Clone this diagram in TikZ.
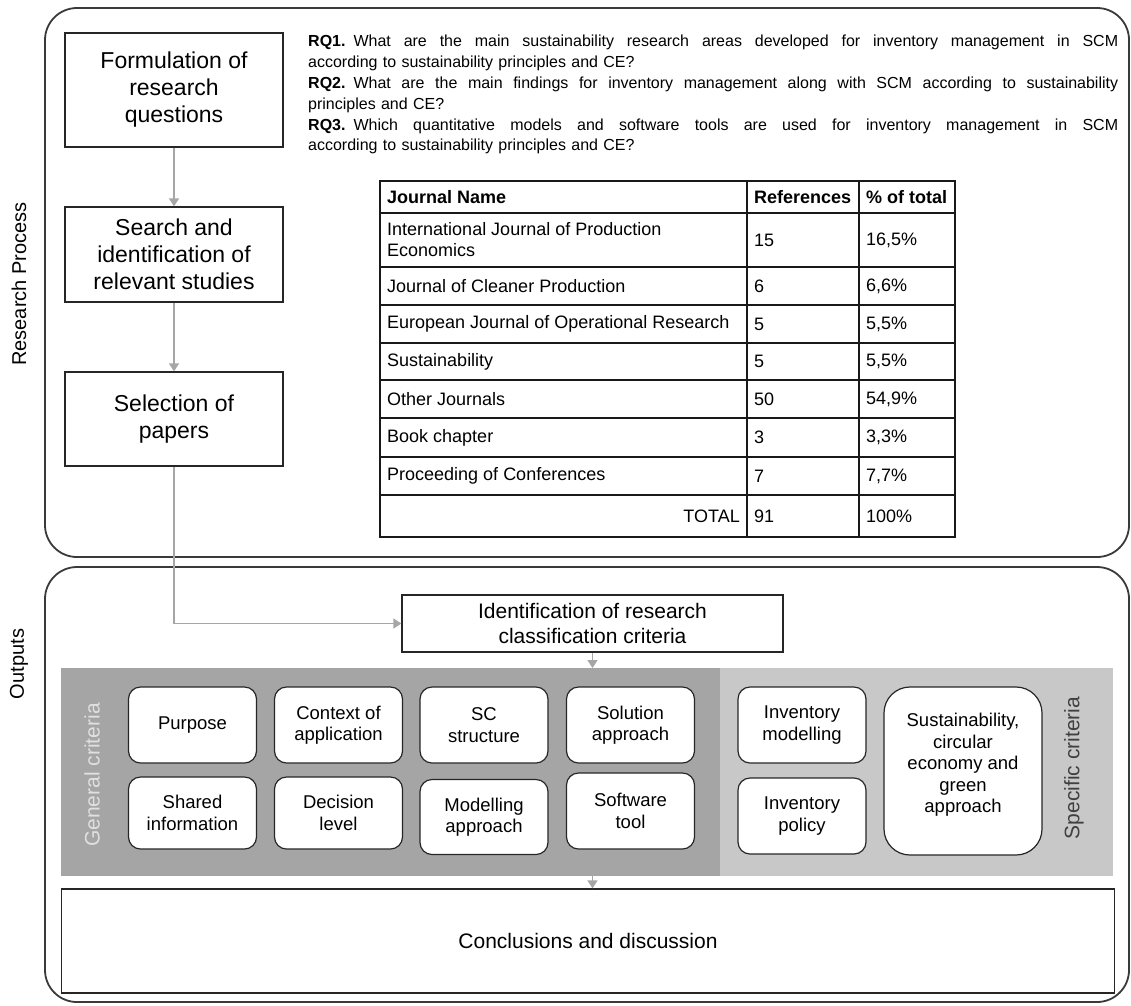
\documentclass[tikz,border=0pt]{standalone}
\usepackage{fontspec}
\setmainfont{Liberation Sans}
\usetikzlibrary{arrows.meta}
\newcommand\myfs[2]{\fontsize{#1pt}{#2pt}\selectfont}
\newcommand\jline[1]{\makebox[810pt][s]{\spaceskip=0.278em plus 1fil\relax #1}}
\definecolor{arrgray}{HTML}{A6A6A6}
\definecolor{darkband}{HTML}{A5A5A5}
\definecolor{lightband}{HTML}{C8C8C8}
\definecolor{framec}{HTML}{3A3A3A}
\begin{document}
\begin{tikzpicture}[x=1pt,y=-1pt,
 frame/.style={draw=framec, line width=1.8pt, rounded corners=32pt},
 mainbox/.style={draw=black!85, line width=1.3pt, fill=white, align=center, minimum width=218pt, font=\myfs{23}{27}},
 crit/.style={draw=black!85, line width=1.2pt, fill=white, rounded corners=12pt, align=center, minimum width=128pt, font=\myfs{18.5}{21.5}},
 arr/.style={draw=arrgray, line width=1.5pt, -{Triangle[width=10pt,length=8pt]}},
 tline/.style={draw=black!90, line width=1.3pt, line cap=rect},
 cell/.style={anchor=west, inner sep=0pt, font=\myfs{18}{21}, align=left},
 side/.style={rotate=90, font=\myfs{20}{23}}
]
\useasboundingbox (0,0) rectangle (1131,1005);
\draw[frame] (45,8) rectangle (1129,557);
\draw[frame] (45,567) rectangle (1129,1002);

\node[side] (rp) at (19,284) {Research Process};
\node[side] (outl) at (19,664) {Outputs};

\node[mainbox, minimum height=114pt] (f1) at (174,90) {Formulation of\\research\\questions};
\node[mainbox, minimum height=95pt] (f2) at (174,254.5) {Search and\\identification of\\relevant studies};
\node[mainbox, minimum height=94pt] (f3) at (174,419) {Selection of\\papers};

\node[anchor=north west, inner sep=0pt, font=\myfs{16}{20.8}, align=left, text width=810pt] (rq) at (308,35) {%
\jline{\textbf{RQ1.} What are the main sustainability research areas developed for inventory management in SCM}\\
according to sustainability principles and CE?\\
\jline{\textbf{RQ2.} What are the main findings for inventory management along with SCM according to sustainability}\\
principles and CE?\\
\jline{\textbf{RQ3.} Which quantitative models and software tools are used for inventory management in SCM}\\
according to sustainability principles and CE?};

% table
\foreach \yy in {181,213,267,305,343,380,418,457,495,537} \draw[tline] (380,\yy) -- (955,\yy);
\foreach \xx in {380,747,859,955} \draw[tline] (\xx,181) -- (\xx,537);
\node[cell, font=\bfseries\myfs{18}{21}] (h1) at (387,197) {Journal Name};
\node[cell, font=\bfseries\myfs{18}{21}] (h2) at (754,197) {References};
\node[cell, font=\bfseries\myfs{18}{21}] (h3) at (866,197) {\% of total};
\node[cell] (r1a) at (387,240) {International Journal of Production\\Economics};
\node[cell] (r1b) at (754,240) {15};
\node[cell] (r1c) at (866,240) {16,5\%};
\node[cell] (r2a) at (387,286) {Journal of Cleaner Production};
\node[cell] (r2b) at (754,286) {6};
\node[cell] (r2c) at (866,286) {6,6\%};
\node[cell] (r3a) at (387,324) {European Journal of Operational Research};
\node[cell] (r3b) at (754,324) {5};
\node[cell] (r3c) at (866,324) {5,5\%};
\node[cell] (r4a) at (387,361.5) {Sustainability};
\node[cell] (r4b) at (754,361.5) {5};
\node[cell] (r4c) at (866,361.5) {5,5\%};
\node[cell] (r5a) at (387,399) {Other Journals};
\node[cell] (r5b) at (754,399) {50};
\node[cell] (r5c) at (866,399) {54,9\%};
\node[cell] (r6a) at (387,437.5) {Book chapter};
\node[cell] (r6b) at (754,437.5) {3};
\node[cell] (r6c) at (866,437.5) {3,3\%};
\node[cell] (r7a) at (387,476) {Proceeding of Conferences};
\node[cell] (r7b) at (754,476) {7};
\node[cell] (r7c) at (866,476) {7,7\%};
\node[cell, anchor=east] (tta) at (740,516) {TOTAL};
\node[cell] (ttb) at (754,516) {91};
\node[cell] (ttc) at (866,516) {100\%};

% outputs
\node[draw=black!85, line width=1.3pt, fill=white, minimum width=381pt, minimum height=57pt, align=center, font=\myfs{21}{25}] (ident) at (592.5,623.5) {Identification of research\\classification criteria};
\node[fill=darkband, minimum width=659pt, minimum height=208pt, inner sep=0pt, anchor=north west] (genband) at (61,668) {};
\node[fill=lightband, minimum width=393pt, minimum height=208pt, inner sep=0pt, anchor=north west] (specband) at (720,668) {};
\node[draw=black!85, line width=1.3pt, minimum width=1053pt, minimum height=104pt, font=\myfs{21}{25}] (concl) at (588,941) {Conclusions and discussion};

\node[side, font=\myfs{21}{24}, text=white!88!black] (gen) at (92,775) {General criteria};
\node[side, font=\myfs{21}{24}, text=black!75] (spec) at (1074,768) {Specific criteria};

\node[crit, minimum height=76pt] (purpose) at (192.5,725) {Purpose};
\node[crit, minimum height=76pt] (context) at (338.5,725) {Context of\\application};
\node[crit, minimum height=76pt] (scs) at (484,725) {SC\\structure};
\node[crit, minimum height=76pt] (solution) at (630.5,725) {Solution\\approach};
\node[crit, minimum height=72pt] (shared) at (192.5,813) {Shared\\information};
\node[crit, minimum height=72pt] (decision) at (338.5,813) {Decision\\level};
\node[crit, minimum height=75pt] (modelling) at (484,817) {Modelling\\approach};
\node[crit, minimum height=76pt] (software) at (630.5,811) {Software\\tool};
\node[crit, minimum height=76pt] (invmod) at (802,725) {Inventory\\modelling};
\node[crit, minimum height=76pt] (invpol) at (802,816) {Inventory\\policy};
\node[crit, rounded corners=26pt, minimum width=158pt, minimum height=168pt] (sust) at (963,771) {Sustainability,\\circular\\economy and\\green\\approach\\[-6pt]\mbox{}};

% connectors
\draw[arr] (f1) -- (f2);
\draw[arr] (f2) -- (f3);
\draw[arr] (f3.south) |- (ident.west);
\draw[arr] (ident.south) -- (ident.south |- genband.north);
\draw[arr] (ident.south |- genband.south) -- (ident.south |- concl.north);
\end{tikzpicture}
\end{document}
